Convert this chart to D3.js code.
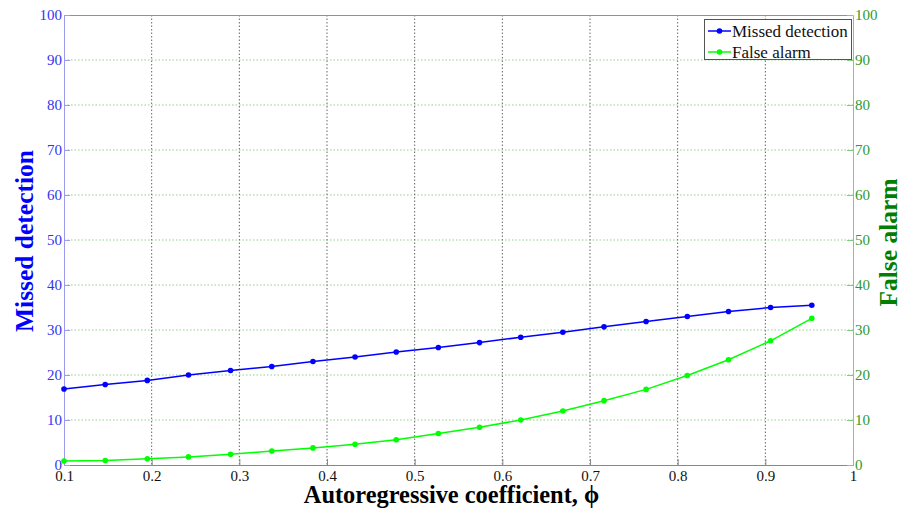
<!DOCTYPE html>
<html>
<head>
<meta charset="utf-8">
<script src="https://cdn.jsdelivr.net/npm/d3@7"></script>
<style>
  body { margin: 0; background: #fff; }
  svg, svg text { font-family: "Liberation Serif", "Times New Roman", serif; }
</style>
</head>
<body>
<div class="chart"></div>
<script>
"use strict";

// autoregressive coefficient values (x)
const phi = [0.1, 0.147, 0.195, 0.242, 0.29, 0.337, 0.384, 0.432, 0.479, 0.527,
  0.574, 0.621, 0.669, 0.716, 0.764, 0.811, 0.858, 0.906, 0.953];
const missed = [16.9, 17.9, 18.8, 20.0, 21.0, 21.9, 23.0, 24.0, 25.1, 26.1,
  27.2, 28.4, 29.5, 30.7, 31.9, 33.0, 34.1, 35.0, 35.5];
const falseAlarm = [0.9, 1.0, 1.4, 1.8, 2.4, 3.1, 3.8, 4.6, 5.6, 7.0,
  8.4, 10.0, 12.0, 14.3, 16.8, 19.9, 23.4, 27.6, 32.6];
const xTicks = [0.1, 0.2, 0.3, 0.4, 0.5, 0.6, 0.7, 0.8, 0.9, 1];
const yTicks = [0, 10, 20, 30, 40, 50, 60, 70, 80, 90, 100];
const legendLabels = ["Missed detection", "False alarm"];

const margin = { top: 15, right: 50, bottom: 46, left: 64 };
const width = 903 - margin.left - margin.right;
const height = 511 - margin.top - margin.bottom;
const serif = "'Liberation Serif', 'Times New Roman', serif";

const svg = d3
  .select(".chart")
  .append("svg")
  .attr("width", 903)
  .attr("height", 511)
  .append("g")
  .attr("transform", `translate(${margin.left},${margin.top})`);

const x = d3.scaleLinear().domain([0.1, 1]).range([0, width]);
const yL = d3.scaleLinear().domain([0, 100]).range([height, 0]);
const yR = d3.scaleLinear().domain([0, 100]).range([height, 0]);

// grid lines
svg.append("g")
  .selectAll("line")
  .data(yTicks.slice(1, -1))
  .join("line")
  .attr("x1", 0).attr("x2", width)
  .attr("y1", (d) => yR(d)).attr("y2", (d) => yR(d))
  .attr("stroke", "#8fcf8f")
  .attr("stroke-width", 1)
  .attr("stroke-dasharray", "1.5,2");

svg.append("g")
  .selectAll("line")
  .data(xTicks.slice(1, -1))
  .join("line")
  .attr("x1", (d) => x(d)).attr("x2", (d) => x(d))
  .attr("y1", 0).attr("y2", height)
  .attr("stroke", "#666")
  .attr("stroke-width", 1)
  .attr("stroke-dasharray", "1.5,2");

// axes
const xAxis = d3.axisBottom(x).tickValues(xTicks).tickSize(-6).tickPadding(5)
  .tickFormat((d) => (d === 1 ? "1" : d3.format(".1f")(d)));
const yAxisL = d3.axisLeft(yL).tickValues(yTicks).tickSize(-6).tickPadding(2);
const yAxisR = d3.axisRight(yR).tickValues(yTicks).tickSize(-6).tickPadding(2);

// top border
svg.append("line")
  .attr("x1", 0).attr("x2", width).attr("y1", 0.5).attr("y2", 0.5)
  .attr("stroke", "#7aa27a");

function styleAxis(g, lineColor, textColor) {
  g.attr("font-family", null).style("font-family", serif);
  g.selectAll("path, line").attr("stroke", lineColor);
  g.selectAll("text")
    .attr("fill", textColor)
    .style("font-family", serif)
    .style("font-size", "15px");
}

const gx = svg.append("g")
  .attr("transform", `translate(0,${height})`)
  .call(xAxis);
styleAxis(gx, "#888", "#111");

const gl = svg.append("g").call(yAxisL);
styleAxis(gl, "#9a9aee", "#3434f0");

const gr = svg.append("g")
  .attr("transform", `translate(${width},0)`)
  .call(yAxisR);
styleAxis(gr, "#7fcb7f", "#2f9a2f");

// lines
const series = [
  { name: legendLabels[0], values: missed, color: "#0000ff" },
  { name: legendLabels[1], values: falseAlarm, color: "#00ff00" },
];

series.forEach((s, i) => {
  const yS = i === 0 ? yL : yR;
  const line = d3.line()
    .x((d, j) => x(phi[j]))
    .y((d) => yS(d));
  svg.append("path")
    .datum(s.values)
    .attr("fill", "none")
    .attr("stroke", s.color)
    .attr("stroke-width", 1.5)
    .attr("d", line);
  svg.append("g")
    .selectAll("circle")
    .data(s.values)
    .join("circle")
    .attr("cx", (d, j) => x(phi[j]))
    .attr("cy", (d) => yS(d))
    .attr("r", 2.8)
    .attr("fill", s.color);
});

// legend
const legend = svg.append("g").attr("transform", `translate(${width - 149},4)`);
legend.append("rect")
  .attr("x", 0.5).attr("y", 0.5)
  .attr("width", 147).attr("height", 40)
  .attr("fill", "#fff")
  .attr("stroke", "#555");
series.forEach((s, i) => {
  const ly = 12 + i * 21;
  legend.append("line")
    .attr("x1", 4).attr("x2", 27).attr("y1", ly).attr("y2", ly)
    .attr("stroke", s.color).attr("stroke-width", 1.5);
  legend.append("circle")
    .attr("cx", 15.5).attr("cy", ly).attr("r", 2.8).attr("fill", s.color);
  legend.append("text")
    .attr("x", 28).attr("y", ly + 5.5)
    .attr("font-size", "17px")
    .attr("fill", "#111")
    .text(s.name);
});

// axis titles
svg.append("text")
  .attr("transform", `translate(-31,${height / 2 + 1}) rotate(-90)`)
  .attr("text-anchor", "middle")
  .attr("font-weight", "bold")
  .attr("font-size", "25.5px")
  .attr("fill", "#0000ff")
  .text("Missed detection");

svg.append("text")
  .attr("transform", `translate(${width + 44},${height / 2 + 2.5}) rotate(-90)`)
  .attr("text-anchor", "middle")
  .attr("font-weight", "bold")
  .attr("font-size", "25.5px")
  .attr("fill", "#008000")
  .text("False alarm");

svg.append("text")
  .attr("x", width / 2 - 7)
  .attr("y", height + 38)
  .attr("text-anchor", "middle")
  .attr("font-weight", "bold")
  .attr("font-size", "24.4px")
  .attr("fill", "#000")
  .text("Autoregressive coefficient, ϕ");
</script>
</body>
</html>
